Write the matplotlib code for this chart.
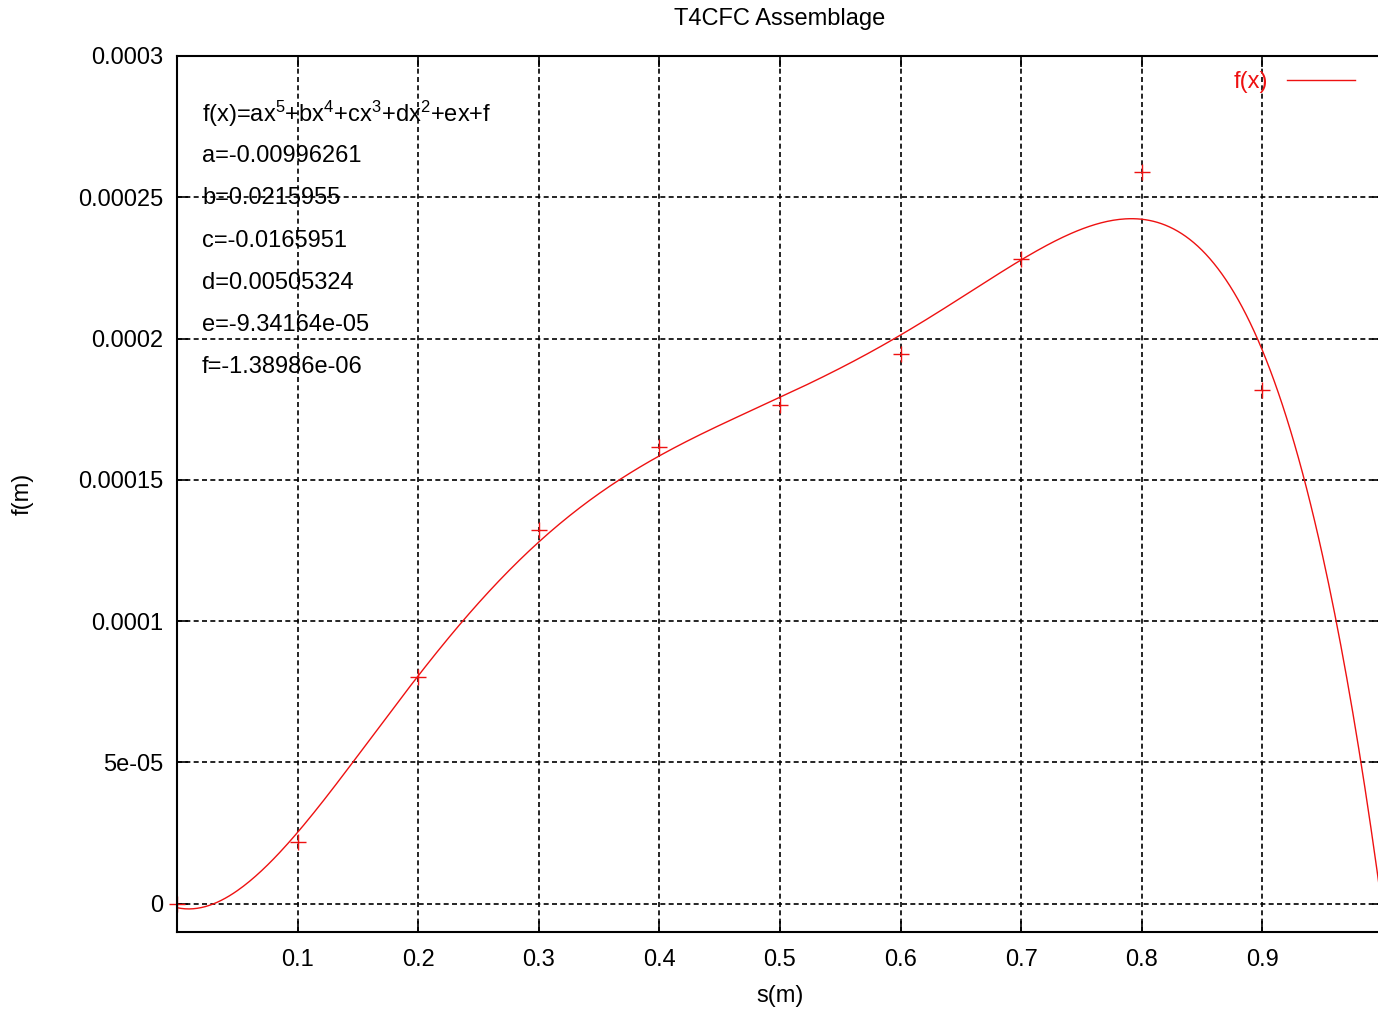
import numpy as np
import matplotlib
matplotlib.use("Agg")
import matplotlib.pyplot as plt

plt.rcParams['font.family'] = ['Liberation Sans', 'DejaVu Sans']
plt.rcParams['mathtext.default'] = 'regular'

# ---- data ----
title = "T4CFC Assemblage"
x_label = "s(m)"
y_label = "f(m)"
# fit coefficients shown on the chart (a..f)
coef_names = ["a", "b", "c", "d", "e", "f"]
coef_values = [-0.00996261, 0.0215955, -0.0165951, 0.00505324, -9.34164e-05, -1.38986e-06]
coef_texts = ["-0.00996261", "0.0215955", "-0.0165951", "0.00505324", "-9.34164e-05", "-1.38986e-06"]
# measured points
pts_x = [0.0, 0.1, 0.2, 0.3, 0.4, 0.5, 0.6, 0.7, 0.8, 0.9]
pts_y = [0.0, 2.2e-05, 8.04e-05, 1.321e-04, 1.615e-04, 1.764e-04, 1.945e-04, 2.281e-04, 2.589e-04, 1.817e-04]
x_ticks = [0.1, 0.2, 0.3, 0.4, 0.5, 0.6, 0.7, 0.8, 0.9]
x_tick_labels = ["0.1", "0.2", "0.3", "0.4", "0.5", "0.6", "0.7", "0.8", "0.9"]
y_ticks = [0.0, 5e-05, 1e-04, 1.5e-04, 2e-04, 2.5e-04, 3e-04]
y_tick_labels = ["0", "5e-05", "0.0001", "0.00015", "0.0002", "0.00025", "0.0003"]
legend_label = "f(x)"

W, H = 1378, 1009
fig = plt.figure(figsize=(W / 100, H / 100), dpi=100)
left, right, top, bottom = 177, 1383, 56, 932
ax = fig.add_axes([left / W, (H - bottom) / H, (right - left) / W, (bottom - top) / H])

red = "#ee1111"
fs = 17

xs = np.linspace(0, 1, 600)
ys = np.polyval(coef_values, xs)
ax.plot(xs, ys, color=red, lw=1.0, label=legend_label)
ax.plot(pts_x, pts_y, ls='none', marker='+', ms=11, mew=1.0, color=red,
        clip_on=False, label='_nolegend_')

ax.set_xlim(0, 1)
ax.set_ylim(-1e-05, 3e-04)
ax.set_xticks(x_ticks)
ax.set_xticklabels(x_tick_labels)
ax.set_yticks(y_ticks)
ax.set_yticklabels(y_tick_labels)
ax.tick_params(direction='in', length=8, width=1.2, top=True, right=True,
               labelsize=fs, pad=10, colors='black')
ax.tick_params(axis='x', pad=12)
ax.grid(True, color='black', ls=(0, (3, 2)), lw=1.2)
for s in ax.spines.values():
    s.set_linewidth(1.5)

ax.set_title(title, fontsize=fs, pad=22)
ax.set_xlabel(x_label, fontsize=fs, labelpad=10)
ax.set_ylabel(y_label, fontsize=fs, labelpad=32)

# equation annotation
lines = ["f(x)=ax$^{5}$+bx$^{4}$+cx$^{3}$+dx$^{2}$+ex+f"] + \
        [f"{n}={t}" for n, t in zip(coef_names, coef_texts)]
for i, ln in enumerate(lines):
    yp = 114 + i * 42.2
    fig.text(202 / W, 1 - yp / H, ln, fontsize=fs, ha='left', va='center')

leg = ax.legend(loc='center right', bbox_to_anchor=(1355 / W, 1 - 82 / H),
                bbox_transform=fig.transFigure, frameon=False, markerfirst=False,
                handlelength=2.9, handletextpad=0.8, fontsize=fs, labelcolor=red,
                borderaxespad=0, borderpad=0)

fig.savefig("out.png", dpi=100)
